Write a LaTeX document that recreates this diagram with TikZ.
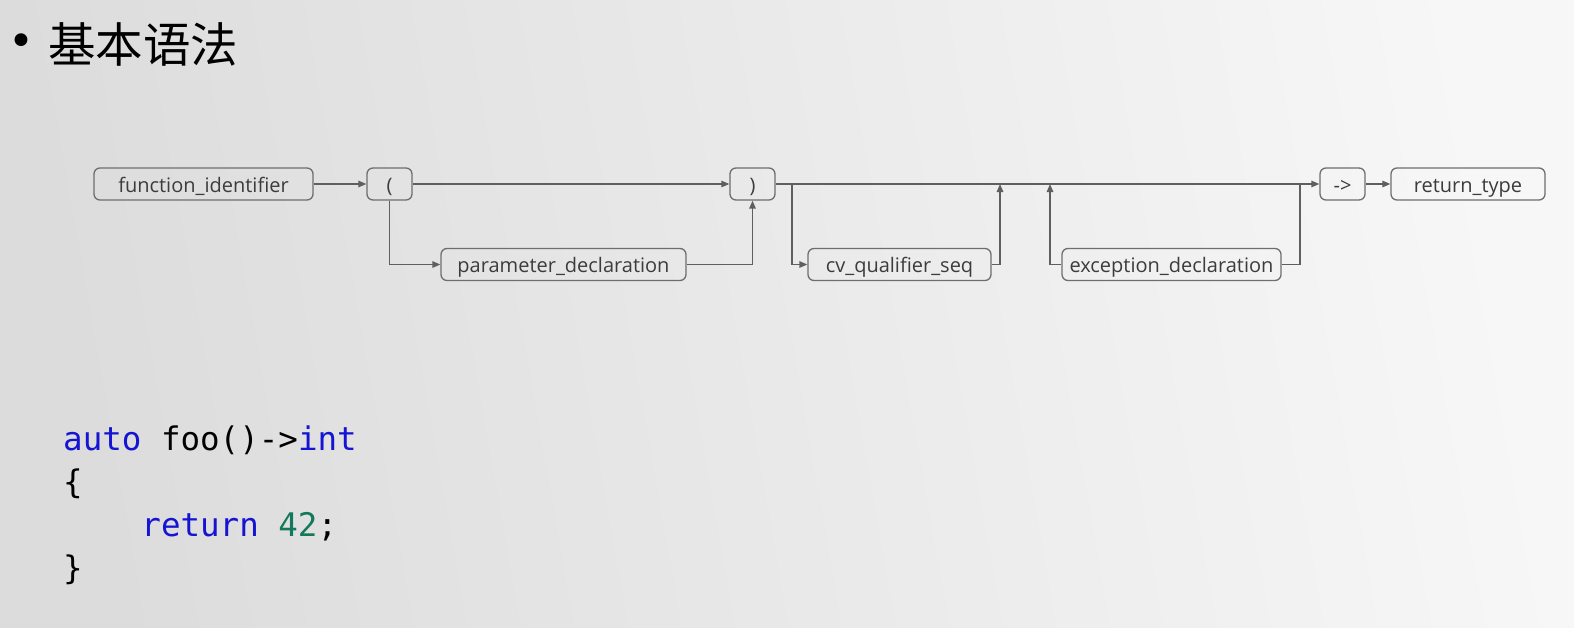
\documentclass[tikz,border=0pt]{standalone}
\usepackage{fontspec}
\usetikzlibrary{arrows.meta}
\newfontfamily\diagfont{Open Sans}
\newfontfamily\cjkfont{Noto Sans CJK SC}
\newfontfamily\codefont{DejaVu Sans Mono}
\newfontfamily\bulfont{DejaVu Sans}
\definecolor{bgL}{RGB}{220,220,220}
\definecolor{bgR}{RGB}{247,247,247}
\definecolor{boxline}{RGB}{110,110,110}
\definecolor{wire}{RGB}{95,95,95}
\definecolor{txt}{RGB}{60,60,60}
\definecolor{kw}{RGB}{20,20,210}
\definecolor{num}{RGB}{20,120,90}
\tikzset{
  rbox/.style={draw=boxline, line width=1.3pt, rounded corners=6pt, fill=none,
    minimum height=32pt, inner sep=0pt, text=txt, text height=17pt, text depth=1pt,
    font=\diagfont\fontsize{20}{22}\selectfont},
  arr/.style={draw=wire, line width=1.4pt, -{Triangle[length=8pt,width=6.5pt]}},
  wireline/.style={draw=wire, line width=1.4pt},
  codetxt/.style={anchor=base west, inner sep=0pt, font=\codefont\fontsize{32.5}{36}\selectfont}
}
\begin{document}
\begin{tikzpicture}[x=1pt,y=-1pt]
\useasboundingbox (0,0) rectangle (1574,627);
\shade[left color=bgL, right color=bgR, shading angle=100] (0,0) rectangle (1574,627);
% title
\node[anchor=center, inner sep=0pt, font=\bulfont\fontsize{44}{48}\selectfont] (bul) at (21,45) {•};
\node[anchor=west, inner sep=0pt, font=\cjkfont\fontsize{47.5}{50}\selectfont] (title) at (48,44) {基本语法};
% boxes
\node[rbox, minimum width=219pt] (fi) at (203.5,184) {function\_identifier};
\node[rbox, minimum width=45pt] (lp) at (389.5,184) {(};
\node[rbox, minimum width=45pt] (rp) at (752.5,184) {)};
\node[rbox, minimum width=245pt] (pd) at (563.5,264.5) {parameter\_declaration};
\node[rbox, minimum width=183pt] (cv) at (899.5,264.5) {cv\_qualifier\_seq};
\node[rbox, minimum width=219pt] (ed) at (1171.5,264.5) {exception\_declaration};
\node[rbox, minimum width=45pt] (ar) at (1342.5,184) {->};
\node[rbox, minimum width=154pt] (rt) at (1468,184) {return\_type};
% connectors
\coordinate (b1) at (792,184);
\coordinate (j1) at (1000,184);
\coordinate (j2) at (1050,184);
\coordinate (b2) at (1300,184);
\draw[arr] (fi.east) -- (lp.west);
\draw[arr] (lp.east) -- (rp.west);
\draw[arr] (lp.south) |- (pd.west);
\draw[arr] (pd.east) -| (rp.south);
\draw[arr] (rp.east) -- (ar.west);
\draw[arr] (ar.east) -- (rt.west);
\draw[arr] (b1) |- (cv.west);
\draw[arr] (cv.east) -| (j1);
\draw[arr] (ed.west) -| (j2);
\draw[wireline] (b2) |- (ed.east);
% code
\node[codetxt] (c1) at (63,450) {\textcolor{kw}{auto} foo()->\textcolor{kw}{int}};
\node[codetxt] (c2) at (63,493) {\{};
\node[codetxt] (c3) at (63,536) {\phantom{xxxx}\textcolor{kw}{return} \textcolor{num}{42};};
\node[codetxt] (c4) at (63,579) {\}};
\end{tikzpicture}
\end{document}
